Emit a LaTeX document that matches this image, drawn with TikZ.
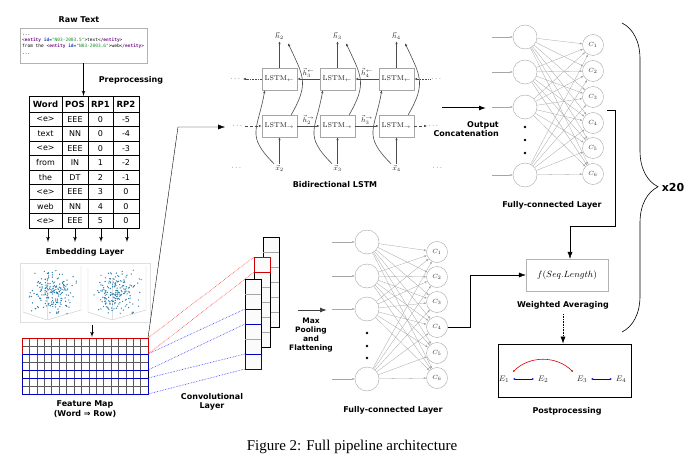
\documentclass[tikz,border=0pt]{standalone}
\usepackage{fontspec}
\usepackage{amsmath}
\newfontfamily\lblfont{DejaVu Sans}
\newfontfamily\codefont{DejaVu Sans Mono}
\newfontfamily\capfont{Liberation Serif}
\usetikzlibrary{positioning,shapes,arrows,arrows.meta,decorations.pathreplacing}
\definecolor{entcol}{RGB}{120,20,140}
\definecolor{idcol}{RGB}{30,60,200}
\definecolor{valcol}{RGB}{20,140,40}
\definecolor{dotcol}{RGB}{40,125,170}

\begin{document}
\begin{tikzpicture}[x=1pt, y=-1pt]
	\tikzstyle{boldtxt} = [font=\lblfont\bfseries\fontsize{8}{9.5}\selectfont, align=center, inner sep=1pt]
	\tikzstyle{cell} = [font=\lblfont\fontsize{8}{9}\selectfont, inner sep=0pt]
	\tikzstyle{line} = [draw, -latex', thick]
	\tikzstyle{bigarrow} = [draw, -{Latex[length=7pt,width=5pt]}]
	\tikzstyle{lstm} = [rectangle, draw=gray!70, minimum width=35pt, minimum height=22pt, inner sep=0pt, font=\fontsize{7}{8}\selectfont, text=gray!20!black]
	\tikzstyle{garrow} = [draw=gray!60!black, line width=0.6pt, -{Latex[length=3pt,width=2.4pt]}]
	\tikzstyle{vlabel} = [font=\fontsize{7}{8}\selectfont, text=gray!30!black, inner sep=1pt]
	\tikzstyle{neuron} = [circle, draw=gray!70, minimum size=24pt, inner sep=0pt]
	\tikzstyle{outneuron} = [circle, draw=gray!70, minimum size=21pt, inner sep=0pt, font=\fontsize{6}{7}\selectfont, text=gray!40!black]
	\tikzstyle{fcedge} = [draw=gray!70, line width=0.3pt, -{Latex[length=2.5pt,width=2pt]}]

	\useasboundingbox (0,0) rectangle (698,465);

	% Raw text and table
	\node[boldtxt] (rawlbl) at (79,20) {Raw Text};
	\node[draw=gray!60, minimum width=127pt, minimum height=35pt] (raw) at (83.5,45.5) {};
	\node[anchor=west, align=left, inner sep=0pt, font=\codefont\fontsize{4.5}{6.3}\selectfont] (rawtxt) at (22,44.5)
		{...\\
		\textcolor{entcol}{\textbf{<entity}} \textcolor{idcol}{\textbf{id}}=\textcolor{valcol}{"N03-2003.5"}>text</\textcolor{entcol}{\textbf{entity}}>\\
		from the <\textcolor{entcol}{\textbf{entity}} \textcolor{idcol}{\textbf{id}}=\textcolor{valcol}{"N03-2003.6"}>web</\textcolor{entcol}{\textbf{entity}}>\\
		...};
	\coordinate (tabtop) at (84,96);
	\draw[line] (raw.south) -- (raw.south |- tabtop);
	\node[boldtxt] (prep) at (131,80) {Preprocessing};

	\node[cell, font=\lblfont\bfseries\fontsize{8.5}{9}\selectfont] (hw) at (45.5,104) {Word};
	\node[cell, font=\lblfont\bfseries\fontsize{8.5}{9}\selectfont] (hp) at (75,104) {POS};
	\node[cell, font=\lblfont\bfseries\fontsize{8.5}{9}\selectfont] (ha) at (100.5,104) {RP1};
	\node[cell, font=\lblfont\bfseries\fontsize{8.5}{9}\selectfont] (hb) at (126,104) {RP2};
	\foreach \w/\p/\ra/\rb [count=\r] in {<e>/EEE/0/-5, text/NN/0/-4, <e>/EEE/0/-3, from/IN/1/-2, the/DT/2/-1, <e>/EEE/3/0, web/NN/4/0, <e>/EEE/5/0} {
		\node[cell] (wd\r) at (45.5,{104.75+14.5*\r}) {\w};
		\node[cell] (ps\r) at (75,{104.75+14.5*\r}) {\p};
		\node[cell] (ra\r) at (100.5,{104.75+14.5*\r}) {\ra};
		\node[cell] (rb\r) at (126,{104.75+14.5*\r}) {\rb};
	}
	\foreach \r in {0,...,7} \draw[line width=0.7pt] (29,{112+14.5*\r}) -- (139,{112+14.5*\r});
	\foreach \c in {62,88,113} \draw[line width=0.7pt] (\c,96) -- (\c,228);
	\draw[line width=0.9pt] (29,96) rectangle (139,228);

	% Embedding
	\node[boldtxt] (emb) at (85,252) {Embedding Layer};
	\foreach \c in {48,75,101,127} \draw[line] (\c,228) -- ++(0,14);
	\draw[gray!25] (20,263) rectangle (150,322);
	\foreach \ox in {23,88} {
		\draw[gray!45] (\ox,268) -- (\ox,312) -- ({\ox+24},320) -- ({\ox+58},310) -- ({\ox+58},266);
		\draw[gray!25] ({\ox+24},320) -- ({\ox+24},280);
	}
	\pgfmathsetseed{42}
	\foreach \ox in {23,88} \foreach \k in {1,...,190}
		\fill[dotcol] ({\ox+4+50*(rnd+rnd)/2},{268+48*(rnd+rnd)/2}) circle (0.7pt);
	\coordinate (embbot) at (92,325);
	\coordinate (fmtop) at (92,337);
	\draw[line] (embbot) -- (fmtop);

	% Feature map
	\foreach \c in {1,...,16} \draw[gray!70!black, line width=0.4pt] ({22+\c*126/17},338) -- ({22+\c*126/17},394);
	\foreach \r in {1,...,6} \draw[gray!70!black, line width=0.4pt] (22,{338+8*\r}) -- (148,{338+8*\r});
	\draw[line width=0.6pt] (22,338) rectangle (148,394);
	\draw[red!80!black, line width=0.7pt] (22,338) rectangle (148,354);
	\draw[blue!75!black, line width=0.7pt] (22,354) rectangle (148,370);
	\draw[blue!75!black, line width=0.7pt] (22,378) rectangle (148,394);
	\node[boldtxt] (fmap) at (85,409) {Feature Map\\(Word ⇒ Row)};
	\coordinate (fmne) at (148,338);

	% Convolutional layer
	\foreach \a/\b in {354/309, 370/324, 378/354, 394/369}
		\draw[blue!80, densely dotted, line width=0.6pt] (148,\a) -- (245,\b);
	\foreach \a/\b in {338/257, 354/272}
		\draw[red!80, densely dotted, line width=0.6pt] (148,\a) -- (254,\b);
	\foreach \cx/\cy in {263/237, 254/257, 245/279} {
		\filldraw[fill=gray!3, draw=black, line width=0.6pt] (\cx,\cy) rectangle ({\cx+16},{\cy+90});
		\foreach \k in {1,...,5} \draw[gray!70] (\cx,{\cy+15*\k}) -- ({\cx+16},{\cy+15*\k});
	}
	\draw[red!80!black, line width=0.7pt] (254,257) rectangle (270,272);
	\draw[blue!75!black, line width=0.7pt] (245,309) rectangle (261,324);
	\draw[blue!75!black, line width=0.7pt] (245,354) rectangle (261,369);
	\node[boldtxt] (conv) at (212,402) {Convolutional\\Layer};

	% Max pooling and bottom FC
	\coordinate (mp1) at (298,310);
	\coordinate (mp2) at (327,310);
	\draw[bigarrow, line width=1pt, gray!50!black] (mp1) -- (mp2);
	\node[boldtxt, font=\lblfont\bfseries\fontsize{7.5}{9}\selectfont] (mpool) at (311,335) {Max\\Pooling\\and\\Flattening};
	\foreach \i/\y in {1/242, 2/276, 3/309, 4/379} {
		\node[neuron] (b\i) at (367,\y) {};
		\draw[fcedge] ([xshift=-23pt]b\i.west) -- (b\i.west);
	}
	\foreach \j/\y in {1/252, 2/277, 3/302, 4/327, 5/353, 6/378} \node[outneuron] (d\j) at (437,\y) {$C_{\j}$};
	\foreach \y in {333,346,358} \fill (367,\y) circle (1.3pt);
	\foreach \i in {1,...,4} \foreach \j in {1,...,6} \draw[fcedge] (b\i) -- (d\j);
	\node[boldtxt] (fcb) at (393,410) {Fully-connected Layer};

	% Bidirectional LSTM
	\foreach \i/\cx/\k in {1/279.5/2, 2/337.5/3, 3/396.5/4} {
		\node[lstm] (bw\i) at (\cx,79) {$\mathrm{LSTM}_{\leftarrow}$};
		\node[lstm] (fw\i) at (\cx,126) {$\mathrm{LSTM}_{\rightarrow}$};
		\node[vlabel] (h\i) at (\cx,36) {$\vec{h}_{\k}$};
		\node[vlabel] (x\i) at (\cx,168) {$\vec{x}_{\k}$};
		\draw[garrow] (bw\i) -- (h\i);
		\draw[garrow] (x\i) -- (fw\i);
		\draw[garrow] (x\i.north west) to[out=135, in=-100, looseness=1.4] ([xshift=3pt]bw\i.south west);
		\draw[garrow] ([xshift=-6pt]fw\i.north east) to[out=60, in=-65, looseness=1.3] ([shift={(3pt,-2pt)}]h\i.south east);
	}
	\draw[garrow] (fw1) -- node[vlabel, above] {$\vec{h}_2^{\rightarrow}$} (fw2);
	\draw[garrow] (fw2) -- node[vlabel, above] {$\vec{h}_3^{\rightarrow}$} (fw3);
	\draw[garrow] (bw2) -- node[vlabel, above] {$\vec{h}_3^{\leftarrow}$} (bw1);
	\draw[garrow] (bw3) -- node[vlabel, above] {$\vec{h}_4^{\leftarrow}$} (bw2);
	\node[vlabel] (bl) at (236,79) {$\cdots$};
	\node[vlabel] (br) at (437,79) {$\cdots$};
	\node[vlabel] (fl) at (238,126) {$\cdots$};
	\node[vlabel] (fr) at (434,126) {$\cdots$};
	\node[vlabel] (xl) at (237,168) {$\cdots$};
	\node[vlabel] (xr) at (438,168) {$\cdots$};
	\draw[garrow, densely dotted] (bw1) -- (bl);
	\draw[garrow, densely dotted] (br) -- (bw3);
	\draw[garrow, densely dashed] (fl) -- (fw1);
	\draw[garrow, densely dashed] (fw3) -- (fr);
	\node[boldtxt] (bilstm) at (335,185) {Bidirectional LSTM};
	\coordinate (lstmin) at (225,127);
	\draw[bigarrow] (fmne) -- (178,127) -- (lstmin);

	% Output concatenation and top FC
	\coordinate (oc1) at (442,108);
	\coordinate (oc2) at (486,108);
	\draw[bigarrow, line width=1pt] (oc1) -- (oc2);
	\node[boldtxt, align=right, anchor=east] (outcat) at (500,129) {Output\\Concatenation};
	\foreach \i/\y in {1/37, 2/72, 3/107, 4/175} {
		\node[neuron] (a\i) at (525,\y) {};
		\draw[fcedge] ([xshift=-21pt]a\i.west) -- (a\i.west);
	}
	\foreach \j/\y in {1/45, 2/71, 3/97, 4/123, 5/148, 6/174} \node[outneuron] (c\j) at (593,\y) {$C_{\j}$};
	\foreach \y in {127,140,153} \fill (525,\y) circle (1.3pt);
	\foreach \i in {1,...,4} \foreach \j in {1,...,6} \draw[fcedge] (a\i) -- (c\j);
	\node[boldtxt] (fct) at (552,205) {Fully-connected Layer};

	% Weighted averaging and postprocessing
	\node[draw=gray!60, minimum width=82pt, minimum height=32pt, font=\fontsize{9}{10}\selectfont] (fbox) at (567,275) {$f(Seq.Length)$};
	\node[boldtxt] (wavg) at (563,305) {Weighted Averaging};
	\coordinate (tap) at (607,110);
	\draw[bigarrow] (tap) -- ++(8,0) -- ++(0,116) -| ([xshift=3pt]fbox.north);
	\draw[bigarrow] (d4.east) -- ++(22,0) |- (fbox.west);
	\node[draw, line width=0.8pt, minimum width=133pt, minimum height=53pt] (post) at (564.5,370.5) {};
	\draw[bigarrow, densely dotted, line width=0.6pt] ([yshift=-4pt]wavg.south) -- (wavg.south |- post.north);
	\node[font=\fontsize{8}{9}\selectfont, text=gray!30!black] (e1) at (504,379) {$E_1$};
	\node[font=\fontsize{8}{9}\selectfont, text=gray!30!black] (e2) at (543,379) {$E_2$};
	\node[font=\fontsize{8}{9}\selectfont, text=gray!30!black] (e3) at (582,379) {$E_3$};
	\node[font=\fontsize{8}{9}\selectfont, text=gray!30!black] (e4) at (621,379) {$E_4$};
	\draw[blue!80!black, line width=0.6pt, {Latex[length=2.5pt,width=2pt]}-{Latex[length=2.5pt,width=2pt]}] (e1) -- (e2);
	\draw[blue!80!black, line width=0.6pt, {Latex[length=2.5pt,width=2pt]}-{Latex[length=2.5pt,width=2pt]}] (e3) -- (e4);
	\draw[red!85!black, line width=0.6pt, {Latex[length=2.5pt,width=2pt]}-{Latex[length=2.5pt,width=2pt]}] (e1.north east) to[bend left=45] (e3.north west);
	\node[boldtxt] (postlbl) at (567,411) {Postprocessing};

	% Repetition brace
	\draw[line width=0.6pt, decorate, decoration={brace, amplitude=36pt, aspect=0.53}] (622,23) -- (622,332);
	\node[boldtxt, font=\lblfont\bfseries\fontsize{11}{12}\selectfont] (rep) at (673,187) {x20};

	% Caption
	\node[font=\capfont\fontsize{15}{17}\selectfont] (cap) at (352,447) {Figure 2: Full pipeline architecture};
\end{tikzpicture}
\end{document}
